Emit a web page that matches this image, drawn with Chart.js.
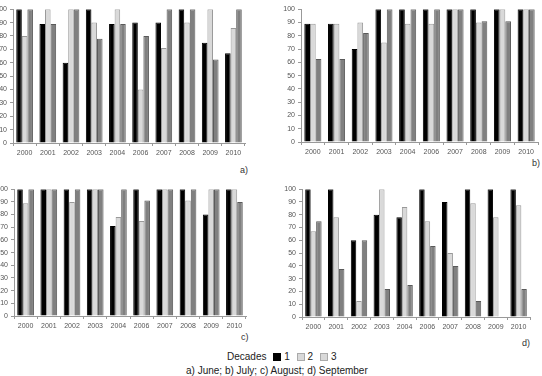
<!DOCTYPE html>
<html>
<head>
<meta charset="utf-8">
<script src="https://cdn.jsdelivr.net/npm/chart.js@4.4.1/dist/chart.umd.min.js"></script>
<style>
  body { margin: 0; background: #fff; width: 542px; height: 376px; overflow: hidden; position: relative; font-family: "Liberation Sans", Arial, sans-serif; }
  .panel { position: absolute; }
  .tag { position: absolute; font-size: 9px; color: #333; }
  #legend { position: absolute; left: 227px; top: 351px; font-size: 10px; color: #222; white-space: nowrap; }
  #legend .sw { display: inline-block; width: 8px; height: 8px; margin: 0 3px 0 4px; vertical-align: -1px; box-sizing: border-box; }
  #caption { position: absolute; left: 186px; top: 365px; font-size: 10px; color: #222; white-space: nowrap; }
</style>
</head>
<body>
<div class="tag" style="left:240px; top:165px">a)</div>
<div class="tag" style="left:532px; top:158px">b)</div>
<div class="tag" style="left:241px; top:332px">c)</div>
<div class="tag" style="left:522px; top:338px">d)</div>
<div id="legend">Decades <span class="sw" style="background:#000"></span>1 <span class="sw" style="background:#d9d9d9;border:1px solid #aaa"></span>2 <span class="sw" style="background:#d9d9d9;border:1px solid #aaa"></span>3</div>
<div id="caption">a) June; b) July; c) August; d) September</div>
<script>
// years on the x axis (2005 is missing in the source)
const years = ["2000", "2001", "2002", "2003", "2004", "2006", "2007", "2008", "2009", "2010"];

// a) June
const juneD1 = [100, 89, 60, 100, 89, 90, 90, 100, 75, 67];
const juneD2 = [80, 100, 100, 90, 100, 40, 71, 90, 100, 86];
const juneD3 = [100, 89, 100, 78, 89, 80, 100, 100, 62.5, 100];

// b) July
const julyD1 = [89, 89, 70, 100, 100, 100, 100, 100, 100, 100];
const julyD2 = [89, 89, 90, 75, 89, 89, 100, 90, 100, 100];
const julyD3 = [62.5, 62.5, 82, 100, 100, 100, 100, 91, 91, 100];

// c) August
const augD1 = [100, 100, 100, 100, 71, 100, 100, 100, 80, 100];
const augD2 = [89, 100, 90, 100, 78, 75, 100, 91, 100, 100];
const augD3 = [100, 100, 100, 100, 100, 91, 100, 100, 100, 90];

// d) September
const sepD1 = [100, 100, 60, 80, 78, 100, 90, 100, 100, 100];
const sepD2 = [67, 78, 12.5, 100, 86, 75, 50, 89, 78, 87.5];
const sepD3 = [75, 37.5, 60, 22, 25, 55.5, 40, 12.5, 0, 22];

const yTicks = [0, 10, 20, 30, 40, 50, 60, 70, 80, 90, 100];

const Y_W = 22, X_H = 16, PAD_T = 5, PAD_R = 6;

function makePanel(rect, d1, d2, d3) {
  const canvas = document.createElement("canvas");
  canvas.className = "panel";
  const w = rect.right - rect.left + Y_W + PAD_R;
  const h = rect.bottom - rect.top + PAD_T + X_H;
  canvas.width = w;
  canvas.height = h;
  canvas.style.left = (rect.left - Y_W) + "px";
  canvas.style.top = (rect.top - PAD_T) + "px";
  canvas.style.width = w + "px";
  canvas.style.height = h + "px";
  document.body.appendChild(canvas);

  const tickFont = { family: "'Liberation Sans', Arial, sans-serif", size: 7 };
  new Chart(canvas.getContext("2d"), {
    type: "bar",
    data: {
      labels: years,
      datasets: [
        { label: "1", data: d1, backgroundColor: "#000", borderColor: "#000", borderWidth: 1 },
        { label: "2", data: d2, backgroundColor: "#d9d9d9", borderColor: "#999", borderWidth: 1 },
        { label: "3", data: d3, backgroundColor: "#808080", borderColor: "#5a5a5a", borderWidth: 1 },
      ],
    },
    options: {
      responsive: false,
      animation: false,
      layout: { padding: { top: PAD_T, right: PAD_R, left: 0, bottom: 0 } },
      datasets: { bar: { categoryPercentage: 0.72, barPercentage: 1.0 } },
      plugins: { legend: { display: false }, tooltip: { enabled: false } },
      scales: {
        x: {
          afterFit: (s) => { s.height = X_H; },
          grid: { display: true, drawOnChartArea: false, drawTicks: true, tickLength: 3, color: "#999" },
          border: { color: "#999" },
          ticks: { color: "#555", font: tickFont, padding: 3, maxRotation: 0, autoSkip: false },
        },
        y: {
          min: 0,
          max: 100,
          afterFit: (s) => { s.width = Y_W; },
          afterBuildTicks: (s) => { s.ticks = yTicks.map((v) => ({ value: v })); },
          grid: { display: true, drawOnChartArea: false, drawTicks: true, tickLength: 3, color: "#999" },
          border: { color: "#999" },
          ticks: { color: "#555", font: tickFont, padding: 3 },
        },
      },
    },
  });
}

makePanel({ left: 13, right: 245, top: 7, bottom: 143 }, juneD1, juneD2, juneD3);
makePanel({ left: 301, right: 538, top: 7, bottom: 142 }, julyD1, julyD2, julyD3);
makePanel({ left: 14, right: 246, top: 187, bottom: 316 }, augD1, augD2, augD3);
makePanel({ left: 302, right: 530, top: 187, bottom: 317 }, sepD1, sepD2, sepD3);
</script>
</body>
</html>
